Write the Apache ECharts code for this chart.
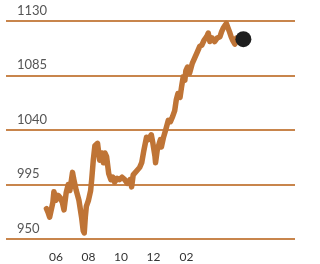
<!DOCTYPE html>
<html>
<head>
<meta charset="utf-8">
<style>
  html, body { margin: 0; padding: 0; background: #fff; }
  #chart { width: 320px; height: 264px; }
</style>
<script src="https://cdn.jsdelivr.net/npm/echarts@6/dist/echarts.min.js"></script>
</head>
<body>
<div id="chart"></div>
<script>
// price history
const dates = [
  "2012-05-14","2012-05-17","2012-05-20","2012-05-23","2012-05-26","2012-05-28",
  "2012-06-01","2012-06-05","2012-06-09","2012-06-13","2012-06-16","2012-06-20",
  "2012-06-24","2012-06-27","2012-07-02","2012-07-04","2012-07-06","2012-07-09",
  "2012-07-14","2012-07-19","2012-07-22","2012-07-24","2012-07-26","2012-07-28",
  "2012-08-01","2012-08-05","2012-08-07","2012-08-10","2012-08-13","2012-08-18",
  "2012-08-22","2012-08-26","2012-08-29","2012-09-01","2012-09-04","2012-09-08",
  "2012-09-12","2012-09-16","2012-09-19","2012-09-24","2012-09-28","2012-10-03",
  "2012-10-08","2012-10-13","2012-10-18","2012-10-21","2012-10-24","2012-10-27",
  "2012-11-01","2012-11-05","2012-11-09","2012-11-13","2012-11-18","2012-11-21",
  "2012-11-27","2012-11-30","2012-12-04","2012-12-05","2012-12-08","2012-12-12",
  "2012-12-14","2012-12-16","2012-12-20","2012-12-24","2012-12-29","2013-01-02",
  "2013-01-06","2013-01-10","2013-01-13","2013-01-16","2013-01-20","2013-01-23",
  "2013-01-26","2013-01-29","2013-01-31","2013-02-03","2013-02-07","2013-02-12",
  "2013-02-17","2013-02-22","2013-02-26","2013-03-02","2013-03-06","2013-03-11",
  "2013-03-14","2013-03-17","2013-03-21","2013-03-26","2013-03-31","2013-04-05",
  "2013-04-08","2013-04-11","2013-04-14","2013-04-17","2013-04-20","2013-04-23",
  "2013-04-26","2013-04-29","2013-05-03","2013-05-06","2013-05-19"
];
const values = [
  975, 972, 968, 967, 980, 989,
  982, 986, 984, 980, 974, 988,
  995, 990, 1005, 1000, 996, 990,
  982, 968, 957, 955, 968, 977,
  982, 990, 999, 1015, 1027, 1029,
  1015, 1021, 1013, 1021, 1018, 1004,
  999, 1001, 997, 1000, 999, 1001,
  999, 996, 999, 993, 1003, 1004,
  1007, 1009, 1013, 1023, 1034, 1032,
  1036, 1029, 1018, 1013, 1023, 1029,
  1032, 1026, 1034, 1040, 1048, 1047,
  1051, 1056, 1065, 1070, 1067, 1076,
  1084, 1081, 1089, 1092, 1087, 1095,
  1100, 1105, 1109, 1110, 1114, 1117,
  1120, 1113, 1116, 1113, 1116, 1117,
  1121, 1124, 1126, 1128, 1127, 1121,
  1117, 1114, 1111, 1116, 1115
];
const monthTicks = ["2012-06-01","2012-08-01","2012-10-01","2012-12-01","2013-02-01"];
const yTicks = [950, 995, 1040, 1085, 1130];

function ts(d) {
  return +new Date(d + "T00:00:00Z");
}

const chart = echarts.init(document.getElementById("chart"));
const line = dates.map((d, i) => [ts(d), values[i]]);
const last = line[line.length - 1];

chart.setOption({
  animation: false,
  grid: { left: 6, right: 25, top: 21, bottom: 25 },
  xAxis: {
    type: "value",
    min: ts("2012-02-28"),
    max: ts("2013-08-24"),
    axisLine: { show: false },
    axisTick: { show: false },
    splitLine: { show: false },
    axisLabel: {
      customValues: monthTicks.map(ts),
      formatter: function (v) {
        const m = new Date(v).getUTCMonth() + 1;
        return (m < 10 ? "0" : "") + m;
      },
      margin: 12,
      fontFamily: "Lato",
      fontSize: 12,
      color: "#333"
    }
  },
  yAxis: {
    type: "value",
    min: yTicks[0],
    max: yTicks[yTicks.length - 1],
    interval: 45,
    axisLine: { show: false },
    axisTick: { show: false },
    splitLine: { lineStyle: { color: "#c8854c", width: 2 } },
    axisLabel: {
      inside: true,
      margin: 11,
      verticalAlign: "bottom",
      padding: [0, 0, 4, 0],
      formatter: function (v) { return String(v); },
      fontFamily: "Lato",
      fontSize: 13,
      color: "#555"
    }
  },
  series: [
    {
      type: "line",
      data: line,
      showSymbol: false,
      lineStyle: { color: "#bf7436", width: 5.5, join: "round", cap: "round" },
      z: 2
    },
    {
      type: "scatter",
      data: [last],
      symbolSize: 16,
      itemStyle: { color: "#1e1e1e", opacity: 1 },
      z: 3
    }
  ]
});
</script>
</body>
</html>
